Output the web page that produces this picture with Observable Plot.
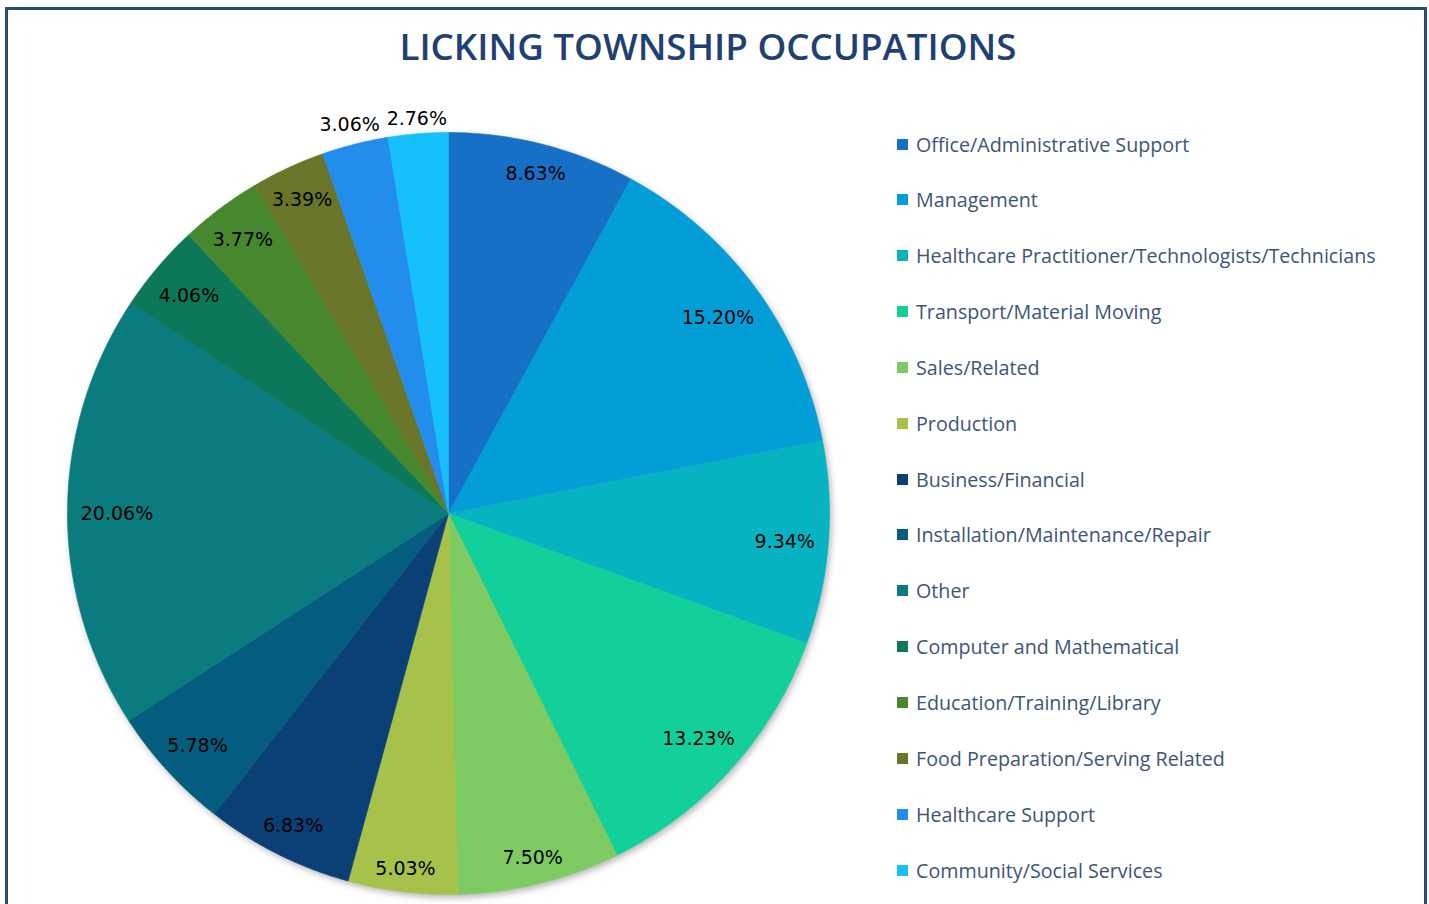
<!DOCTYPE html>
<html>
<head>
<meta charset="utf-8">
<script src="https://cdn.jsdelivr.net/npm/d3@7"></script>
<script src="https://cdn.jsdelivr.net/npm/@observablehq/plot@0.6"></script>
<style>
  html, body { margin: 0; padding: 0; background: #fff; width: 1429px; height: 904px; overflow: hidden; }
  #frame { position: absolute; left: 5px; top: 7px; width: 1416px; height: 910px; border: 3px solid #264b7a; box-sizing: content-box; }
  #title { position: absolute; left: -8px; top: 11px; width: 1416px; text-align: center; font-family: "Open Sans", sans-serif; font-weight: 600; font-size: 36.7px; color: #1f4172; }
  #chart { position: absolute; left: 0; top: 0; }
  #chart g[aria-label="line"] { filter: drop-shadow(2px 3px 3px rgba(0,0,0,0.28)); }
  #legend { position: absolute; left: 897px; top: -1px; font-family: "Open Sans", sans-serif; font-size: 19.7px; color: #3d5578; }
  .row { position: absolute; left: 0; white-space: nowrap; display: flex; align-items: center; height: 30px; }
  .sw { width: 11px; height: 11px; margin-right: 8px; flex: none; }
</style>
</head>
<body>
<div id="chart"></div>
<div id="frame"><div id="title">LICKING TOWNSHIP OCCUPATIONS</div></div>
<div id="legend"></div>
<script>
const categories = [
  "Office/Administrative Support",
  "Management",
  "Healthcare Practitioner/Technologists/Technicians",
  "Transport/Material Moving",
  "Sales/Related",
  "Production",
  "Business/Financial",
  "Installation/Maintenance/Repair",
  "Other",
  "Computer and Mathematical",
  "Education/Training/Library",
  "Food Preparation/Serving Related",
  "Healthcare Support",
  "Community/Social Services"
];
const values = [8.63, 15.20, 9.34, 13.23, 7.50, 5.03, 6.83, 5.78, 20.06, 4.06, 3.77, 3.39, 3.06, 2.76];
const colors = ["#1570c6", "#039dd8", "#08b3c1", "#13d09b", "#7fcb63", "#a7c24a", "#0b4077", "#045c7f", "#0a7b7e", "#0c7759", "#47872e", "#697629", "#238ded", "#16c0fb"];

// geometry of the page
const W = 1429, H = 904, CX = 448, CY = 513, R = 381;
const FS = 19, FONT = "DejaVu Sans";

const ctx = document.createElement("canvas").getContext("2d");
ctx.font = `${FS}px "${FONT}"`;

// pie geometry in data units (radius 1), clockwise from top
const total = d3.sum(values);
const polys = [];
const labels = [];
let acc = 0;
values.forEach((v, i) => {
  const a0 = acc / total * 2 * Math.PI;
  acc += v;
  const a1 = acc / total * 2 * Math.PI;
  polys.push({cat: categories[i], x: 0, y: 0});
  const n = Math.max(2, Math.ceil((a1 - a0) / (Math.PI / 360)));
  for (let k = 0; k <= n; k++) {
    const a = a0 + (a1 - a0) * k / n;
    polys.push({cat: categories[i], x: Math.sin(a), y: Math.cos(a)});
  }
  polys.push({cat: categories[i], x: 0, y: 0});
  // best-fit label placement (pixels), then back to data units
  const text = v.toFixed(2) + "%";
  const hw = ctx.measureText(text).width / 2, hh = FS * 0.38;
  const am = (a0 + a1) / 2, sx = Math.sin(am), sy = Math.cos(am);
  const outside = v < 3.2;
  let d;
  if (!outside) {
    d = 0;
    for (let t = 0; t < 400; t += 0.25) {
      const cx = Math.abs(sx * t) + hw, cy = Math.abs(sy * t) + hh;
      if (Math.hypot(cx, cy) > R - 13) break;
      d = t;
    }
  } else {
    d = R;
    for (let t = R; t < 600; t += 0.25) {
      const cx = Math.max(0, Math.abs(sx * t) - hw), cy = Math.max(0, Math.abs(sy * t) - hh);
      d = t;
      if (Math.hypot(cx, cy) >= R + 8) break;
    }
  }
  labels.push({x: d * sx / R, y: d * sy / R, text});
});

const chart = Plot.plot({
  width: W, height: H,
  margin: 0,
  x: {domain: [-CX / R, (W - CX) / R], axis: null},
  y: {domain: [-(H - CY) / R, CY / R], axis: null},
  color: {domain: categories, range: colors},
  style: {background: "transparent"},
  marks: [
    Plot.line(polys, {x: "x", y: "y", z: "cat", fill: "cat", stroke: "cat", strokeWidth: 0.6, curve: "linear"}),
    Plot.text(labels, {x: "x", y: "y", text: "text", fill: "#000", fontSize: FS, fontFamily: FONT, dy: 2})
  ]
});
document.getElementById("chart").appendChild(chart);

// legend
const legend = document.getElementById("legend");
categories.forEach((c, i) => {
  const row = document.createElement("div");
  row.className = "row";
  row.style.top = (145 + i * 55.85 - 15) + "px";
  const sw = document.createElement("div");
  sw.className = "sw";
  sw.style.background = colors[i];
  const t = document.createElement("span");
  t.textContent = c;
  row.appendChild(sw);
  row.appendChild(t);
  legend.appendChild(row);
});
</script>
</body>
</html>
